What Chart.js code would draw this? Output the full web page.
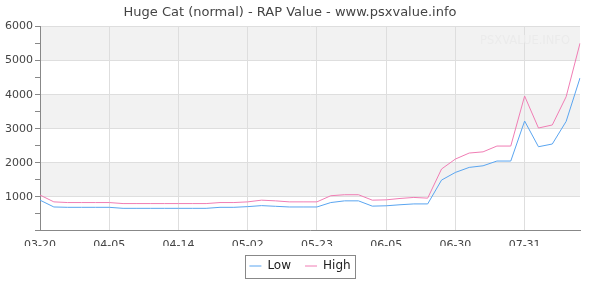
<!DOCTYPE html>
<html>
<head>
<meta charset="utf-8">
<script src="https://cdn.jsdelivr.net/npm/chart.js@4/dist/chart.umd.min.js"></script>
<style>
  html, body { margin: 0; padding: 0; background: #fff; }
  #wrap { width: 600px; height: 300px; }
</style>
</head>
<body>
<div id="wrap"><canvas id="chart" width="600" height="300"></canvas></div>
<script>
// labels between the printed ticks are estimated dates
const dates = [
  "03-20", "03-23", "03-26", "03-29", "04-02", "04-05", "04-07", "04-09", "04-11", "04-12",
  "04-14", "04-18", "04-21", "04-25", "04-28", "05-02", "05-06", "05-10", "05-14", "05-19",
  "05-23", "05-26", "05-28", "05-31", "06-02", "06-05", "06-10", "06-15", "06-20", "06-25",
  "06-30", "07-06", "07-12", "07-18", "07-25", "07-31", "08-04", "08-08", "08-12", "08-16"
];
const lowValues = [
  900, 700, 690, 690, 690, 690, 660, 660, 660, 660,
  660, 660, 660, 690, 690, 710, 740, 720, 700, 700,
  700, 830, 880, 880, 725, 735, 765, 790, 790, 1490,
  1715, 1863, 1910, 2050, 2050, 3225, 2470, 2550, 3215, 4490
];
const highValues = [
  1050, 850, 830, 830, 830, 830, 800, 800, 800, 800,
  800, 800, 800, 830, 830, 850, 900, 880, 850, 850,
  850, 1030, 1060, 1060, 900, 910, 950, 980, 960, 1815,
  2108, 2285, 2320, 2490, 2490, 3960, 3020, 3110, 3940, 5510
];
const yTicks = [0, 1000, 2000, 3000, 4000, 5000, 6000];
const seriesNames = ["Low", "High"];
const seriesColors = ["rgb(90, 165, 240)", "rgb(240, 125, 180)"];

const FONT = "'DejaVu Sans', sans-serif";
const LEGEND_SHIFT = 10; // legend is centred on the whole canvas, not the padded area

// grey/white bands between the 1000 steps
const bandsPlugin = {
  id: "bands",
  beforeDraw(chart) {
    const { ctx, chartArea, scales } = chart;
    const y = scales.y;
    ctx.save();
    for (let i = 0; i < yTicks.length - 1; i++) {
      if (i % 2 === 0) continue;
      const top = y.getPixelForValue(yTicks[i + 1]);
      const bottom = y.getPixelForValue(yTicks[i]);
      ctx.fillStyle = "#f2f2f2";
      ctx.fillRect(chartArea.left, top, chartArea.right - chartArea.left, bottom - top);
    }
    ctx.restore();
  },
};

const watermarkPlugin = {
  id: "watermark",
  afterDraw(chart) {
    const { ctx, chartArea } = chart;
    ctx.save();
    ctx.font = "11.5px " + FONT;
    ctx.fillStyle = "#ebebeb";
    ctx.textAlign = "right";
    ctx.textBaseline = "middle";
    ctx.fillText("PSXVALUE.INFO", chartArea.right - 10, chartArea.top + 14);
    ctx.restore();
  },
};

const legendBoxPlugin = {
  id: "legendBox",
  afterUpdate(chart) {
    chart.legend.left += LEGEND_SHIFT;
    chart.legend.right += LEGEND_SHIFT;
  },
  afterDraw(chart) {
    const boxes = chart.legend.legendHitBoxes;
    if (!boxes.length) return;
    const left = Math.min(...boxes.map((b) => b.left)) - 4 + LEGEND_SHIFT;
    const right = Math.max(...boxes.map((b) => b.left + b.width)) + 5 + LEGEND_SHIFT;
    const top = Math.min(...boxes.map((b) => b.top)) - 5;
    const bottom = Math.max(...boxes.map((b) => b.top + b.height)) + 6;
    const ctx = chart.ctx;
    ctx.save();
    ctx.strokeStyle = "#888";
    ctx.lineWidth = 1;
    ctx.strokeRect(Math.round(left) + 0.5, Math.round(top) + 0.5, Math.round(right - left), Math.round(bottom - top));
    ctx.restore();
  },
};

new Chart("chart", {
  type: "line",
  plugins: [bandsPlugin, watermarkPlugin, legendBoxPlugin],
  data: {
    labels: dates,
    datasets: [
      {
        label: seriesNames[0],
        data: lowValues,
        borderColor: seriesColors[0],
        backgroundColor: seriesColors[0],
        borderWidth: 1,
        pointRadius: 0,
        tension: 0,
      },
      {
        label: seriesNames[1],
        data: highValues,
        borderColor: seriesColors[1],
        backgroundColor: seriesColors[1],
        borderWidth: 1,
        pointRadius: 0,
        tension: 0,
      },
    ],
  },
  options: {
    responsive: false,
    animation: false,
    layout: { padding: { left: 0, right: 20, top: 0, bottom: 18 } },
    scales: {
      x: {
        offset: false,
        border: { color: "#888", width: 1 },
        grid: {
          color: (ctx) => (ctx.index % 5 === 0 ? "#dedede" : "transparent"),
          tickLength: 0,
          drawTicks: false,
        },
        ticks: {
          autoSkip: false,
          maxRotation: 0,
          padding: 8,
          color: "#444",
          font: { family: FONT, size: 11 },
          callback: (value, index) => (index % 5 === 0 ? dates[index] : ""),
        },
        afterFit: (scale) => {
          scale.height -= 14;
        },
      },
      y: {
        min: 0,
        max: 6000,
        border: { color: "#888", width: 1 },
        grid: {
          color: (ctx) => (ctx.tick && ctx.tick.value % 1000 === 0 && ctx.tick.value !== 0 ? "#dedede" : "transparent"),
          tickColor: "#888",
          tickLength: 5,
        },
        ticks: {
          stepSize: 500,
          padding: 2,
          color: "#444",
          font: { family: FONT, size: 11 },
          callback: (value) => (value % 1000 === 0 && value !== 0 ? String(value) : ""),
        },
        afterFit: (scale) => {
          scale.width = 40;
        },
      },
    },
    plugins: {
      title: {
        display: true,
        text: "Huge Cat (normal) - RAP Value - www.psxvalue.info",
        color: "#444",
        font: { family: FONT, size: 13, weight: "normal" },
        padding: { top: 5, bottom: 6 },
      },
      legend: {
        position: "bottom",
        labels: {
          color: "#222",
          font: { family: FONT, size: 12 },
          usePointStyle: true,
          pointStyle: "line",
          pointStyleWidth: 12,
          boxHeight: 6,
          padding: 14,
        },
      },
      tooltip: { enabled: false },
    },
  },
});
</script>
</body>
</html>
